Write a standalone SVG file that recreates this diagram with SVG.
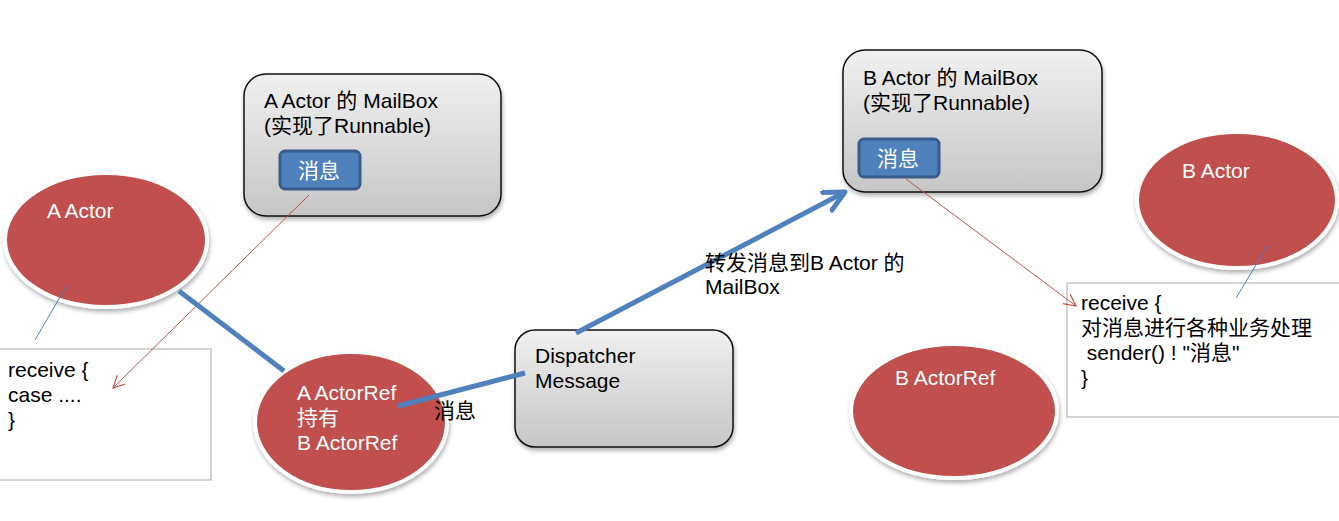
<svg xmlns="http://www.w3.org/2000/svg" width="1339" height="521" viewBox="0 0 1339 521">
<style>
.t{font-family:"Liberation Sans","Noto Sans CJK SC",sans-serif;font-size:21px;fill:#000}
.w{font-family:"Liberation Sans","Noto Sans CJK SC",sans-serif;font-size:21px;fill:#fff}
.actor{fill:#c0504d;stroke:#fff;stroke-width:4;filter:url(#sh)}
.box{fill:url(#g);stroke:#111;stroke-width:1.5;filter:url(#sh)}
.msg{fill:#4f81bd;stroke:#385d8a;stroke-width:3}
.code{fill:#fff;stroke:#aaa;stroke-width:1}
.thick{stroke:#4f81bd;stroke-width:5;fill:none}
.thin{stroke:#4f81bd;stroke-width:1;fill:none}
.red{stroke:#c0504d;stroke-width:1;fill:none}
</style>
<defs>
<linearGradient id="g" x1="0" y1="0" x2="0" y2="1">
<stop offset="0" stop-color="#f0f0f0"/>
<stop offset="1" stop-color="#c6c6c6"/>
</linearGradient>
<filter id="sh" x="-10%" y="-10%" width="125%" height="130%">
<feDropShadow dx="1" dy="3" stdDeviation="2" flood-color="#000" flood-opacity="0.3"/>
</filter>
<marker id="ra" markerWidth="14" markerHeight="14" refX="12" refY="6" orient="auto" markerUnits="userSpaceOnUse">
<path d="M0,0 L12,6 L0,12" fill="none" stroke="#c0504d" stroke-width="1.2"/>
</marker>
<marker id="ba" markerWidth="30" markerHeight="30" refX="22" refY="12" orient="auto" markerUnits="userSpaceOnUse">
<path d="M2,2 L22,12 L2,22" fill="none" stroke="#4f81bd" stroke-width="5" stroke-linecap="round" stroke-linejoin="round"/>
</marker>
</defs>

<g id="codeA">
<rect class="code" x="-1" y="349" width="212" height="131"/>
<text class="t" x="8" y="377">receive {</text>
<text class="t" x="8" y="402">case ....</text>
<text class="t" x="8" y="427">}</text>
</g>

<g id="codeB">
<rect class="code" x="1067" y="283" width="280" height="134"/>
<text class="t" x="1081" y="310">receive {</text>
<text class="t" x="1081" y="335">对消息进行各种业务处理</text>
<text class="t" x="1081" y="360" xml:space="preserve"> sender() ! "消息"</text>
<text class="t" x="1081" y="385">}</text>
</g>

<g id="aActor">
<ellipse class="actor" cx="106" cy="240" rx="101" ry="67"/>
<text class="w" x="47" y="218">A Actor</text>
</g>

<g id="aMailbox">
<rect class="box" x="244" y="74" width="257" height="142" rx="22"/>
<text class="t" x="264" y="108">A Actor 的 MailBox</text>
<text class="t" x="264" y="133">(实现了Runnable)</text>
<rect class="msg" x="280" y="151" width="80" height="38" rx="5"/>
<text class="w" x="319" y="178" text-anchor="middle">消息</text>
</g>

<g id="aActorRef">
<ellipse class="actor" cx="351" cy="422" rx="96" ry="70"/>
<text class="w" x="297" y="400">A ActorRef</text>
<text class="w" x="297" y="425">持有</text>
<text class="w" x="297" y="450">B ActorRef</text>
</g>

<g id="dispatcher">
<rect class="box" x="515" y="330" width="218" height="117" rx="20"/>
<text class="t" x="535" y="363">Dispatcher</text>
<text class="t" x="535" y="388">Message</text>
</g>

<g id="bMailbox">
<rect class="box" x="843" y="50" width="259" height="142" rx="22"/>
<text class="t" x="863" y="85">B Actor 的 MailBox</text>
<text class="t" x="863" y="110">(实现了Runnable)</text>
<rect class="msg" x="859" y="139" width="80" height="38" rx="5"/>
<text class="w" x="898" y="166" text-anchor="middle">消息</text>
</g>

<g id="bActor">
<ellipse class="actor" cx="1237" cy="200" rx="100" ry="68"/>
<text class="w" x="1182" y="178">B Actor</text>
</g>

<g id="bActorRef">
<ellipse class="actor" cx="954" cy="411" rx="103" ry="67"/>
<text class="w" x="895" y="385">B ActorRef</text>
</g>

<g id="connectors">
<line class="thin" x1="67" y1="285" x2="35" y2="340"/>
<line class="thin" x1="1268" y1="245" x2="1236" y2="298"/>
<line class="red" x1="309" y1="195" x2="113" y2="388" marker-end="url(#ra)"/>
<line class="red" x1="906" y1="179" x2="1076" y2="306" marker-end="url(#ra)"/>
<line class="thick" x1="179" y1="291" x2="284" y2="371"/>
<line class="thick" x1="398" y1="406" x2="525" y2="373"/>
<line class="thick" x1="576" y1="333" x2="845" y2="192" marker-end="url(#ba)"/>
<text class="t" x="434" y="418">消息</text>
<text class="t" x="705" y="270">转发消息到B Actor 的</text>
<text class="t" x="705" y="294">MailBox</text>
</g>
</svg>
